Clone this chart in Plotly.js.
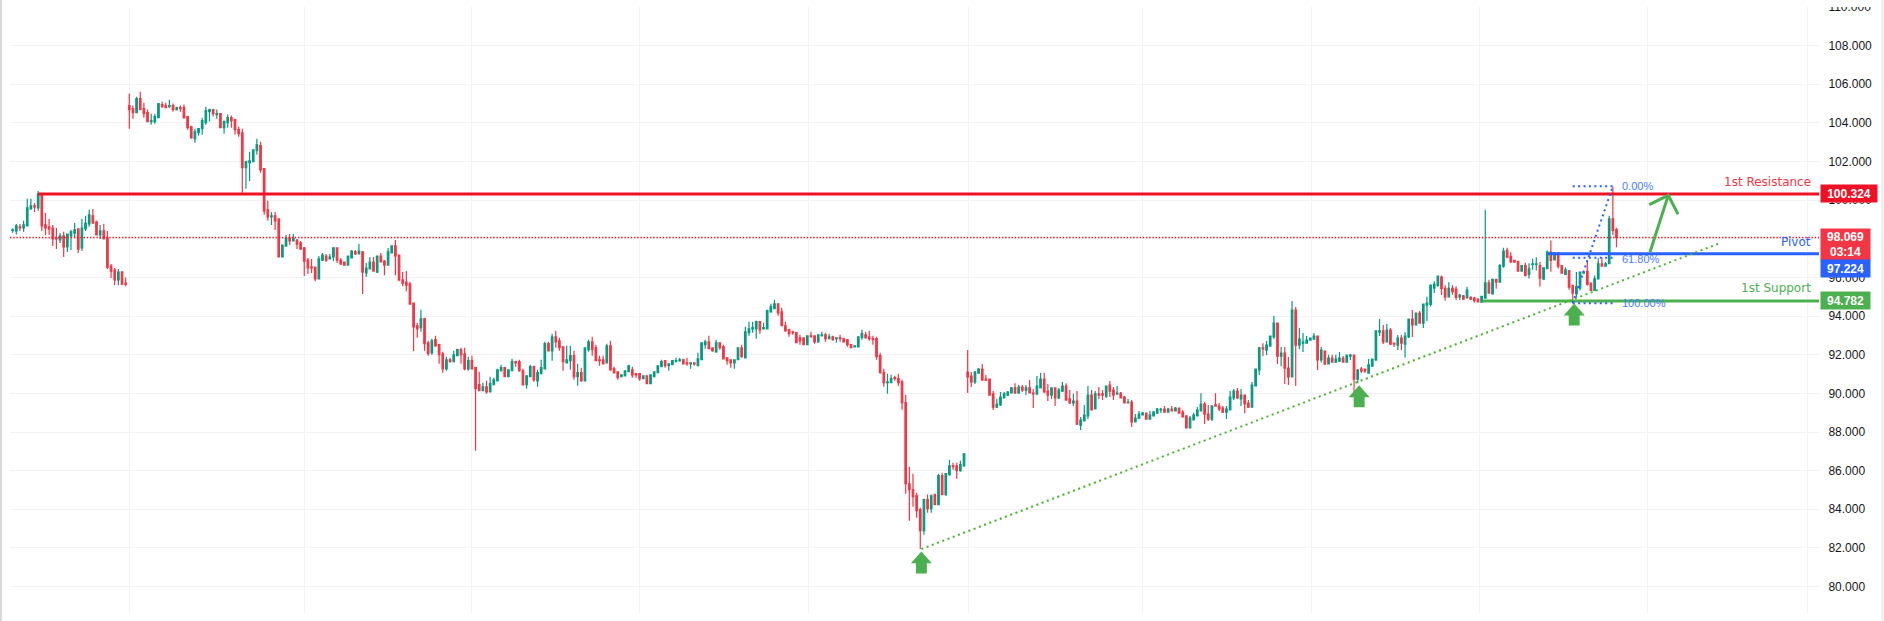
<!DOCTYPE html>
<html>
<head>
<meta charset="utf-8">
<script src="https://cdn.plot.ly/plotly-3.0.1.min.js"></script>
<style>
html,body{margin:0;padding:0;background:#fff;overflow:hidden}
#chart{position:absolute;left:0;top:0;width:1884px;height:621px}
#topmask{position:absolute;left:1820px;top:0;width:60px;height:7px;background:#fff}
#leftedge{position:absolute;left:0;top:0;width:2px;height:621px;background:#d9d9d9}
#rightedge{position:absolute;left:1881px;top:0;width:3px;height:621px;background:#f0f1f3}
</style>
</head>
<body>
<div id="chart"></div>
<div id="topmask"></div>
<div id="leftedge"></div>
<div id="rightedge"></div>
<script>
const open = [
98.43,98.41,98.62,98.56,98.67,99.55,99.71,99.60,100.33,98.72,
98.62,98.56,98.04,97.94,98.15,97.58,98.15,98.30,98.51,97.53,
98.51,98.77,99.19,98.88,98.20,98.41,98.04,96.59,96.38,95.87,
96.28,95.71,104.90,104.74,104.53,105.26,104.74,104.53,104.07,104.07,
104.27,104.95,104.90,104.84,104.90,104.69,104.79,104.79,104.33,103.80,
103.18,103.49,103.70,104.01,104.58,104.69,104.43,104.48,103.75,104.01,
104.27,104.17,103.65,103.49,101.68,101.94,101.99,102.56,102.82,101.63,
99.50,99.14,99.19,99.03,97.06,97.63,98.04,97.89,97.94,97.79,
97.53,96.90,96.54,96.54,95.92,96.90,97.11,96.96,97.06,97.53,
96.90,96.80,96.64,97.01,97.32,97.22,97.32,96.23,96.44,96.80,
96.28,97.11,96.85,96.64,97.27,97.63,97.16,95.87,95.76,95.66,
94.67,93.50,93.40,93.86,92.62,92.10,92.78,92.52,92.05,91.27,
91.74,91.64,91.95,92.26,92.05,91.27,91.69,91.33,90.45,90.14,
90.34,90.08,90.45,90.65,91.17,91.33,90.86,91.17,91.64,91.64,
91.17,90.45,90.86,91.38,90.65,91.02,91.27,92.57,92.20,92.93,
92.72,92.41,91.58,91.69,91.95,90.86,91.07,90.65,92.26,92.67,
92.36,91.74,91.74,91.58,92.46,91.27,91.12,90.86,90.91,91.12,
91.22,91.02,91.02,90.76,90.91,90.50,90.86,91.07,91.38,91.69,
91.43,91.48,91.64,91.69,91.74,91.58,91.53,91.58,91.43,91.74,
92.52,92.67,92.36,92.15,92.62,92.41,91.84,91.74,91.58,91.74,
92.36,91.84,93.14,93.34,93.34,93.71,93.34,93.34,94.22,94.38,
94.64,94.22,93.50,93.29,93.19,93.14,92.88,92.88,92.52,92.98,
92.98,92.67,92.98,93.03,92.83,92.93,92.83,92.88,92.83,92.78,
92.52,92.41,92.41,92.88,93.03,92.93,92.83,92.83,91.95,91.07,
90.55,90.55,90.81,90.76,90.60,89.52,85.32,85.01,84.70,83.98,
82.89,84.50,84.03,84.76,84.24,85.74,84.76,85.79,86.25,86.25,
86.00,86.25,91.10,90.90,90.59,91.05,91.26,90.74,90.74,89.97,
89.29,89.40,89.76,89.91,90.02,90.28,90.02,90.33,90.17,90.28,
90.02,89.97,90.28,90.74,90.12,89.91,90.28,89.76,90.12,90.38,
89.71,89.50,89.60,88.36,88.57,88.83,89.91,89.19,89.97,89.97,
89.86,90.43,90.17,89.97,90.02,89.81,89.50,89.55,88.52,88.72,
88.88,88.98,88.67,88.83,88.98,89.14,89.19,89.03,89.19,89.09,
89.24,89.03,88.83,88.21,88.62,88.83,89.09,89.45,88.93,88.67,
89.40,89.34,89.24,89.03,89.14,89.76,90.12,89.71,89.91,89.50,
89.29,90.38,91.21,92.35,92.24,92.45,92.92,93.64,91.93,92.09,
91.31,90.85,94.31,92.50,92.60,92.60,92.76,92.81,92.97,91.73,
92.19,91.52,91.83,91.62,91.67,91.83,91.62,91.93,91.98,90.74,
91.26,91.26,91.05,91.41,91.73,93.17,93.23,92.66,93.28,92.60,
92.50,92.86,92.55,92.92,93.85,93.54,94.16,93.64,94.57,94.60,
95.45,95.59,96.02,95.43,95.00,95.43,95.40,95.00,95.05,94.95,
94.97,94.93,94.88,94.72,94.93,95.72,95.15,95.90,95.76,96.59,
97.40,97.09,96.88,96.83,96.33,96.62,96.16,96.67,96.67,96.62,
95.91,96.45,97.31,96.91,97.28,96.62,96.16,96.36,95.59,95.15,
95.45,96.22,96.31,95.71,95.33,95.93,96.71,96.59,96.71,99.04,
98.48];
const close = [
98.46,98.67,98.56,98.72,99.60,99.71,99.65,100.33,98.67,98.56,
98.51,97.99,97.99,98.15,97.58,98.25,98.36,98.46,97.47,98.56,
98.82,99.24,98.82,98.20,98.41,97.99,96.54,96.33,95.87,96.28,
95.66,95.66,104.69,104.53,105.26,104.69,104.48,104.07,104.12,104.33,
105.00,104.84,104.79,104.90,104.69,104.79,104.74,104.27,103.75,103.23,
103.55,103.70,104.12,104.64,104.69,104.48,104.48,103.75,104.07,104.27,
104.12,103.65,103.44,101.68,101.99,102.04,102.61,102.87,101.57,99.45,
99.14,99.19,98.93,97.06,97.68,98.04,97.89,98.04,97.73,97.47,
96.85,96.49,96.49,95.92,96.96,97.16,96.90,97.06,97.53,96.90,
96.70,96.64,97.11,97.37,97.22,97.37,96.28,96.49,96.80,96.33,
97.11,96.80,96.64,97.32,97.63,97.11,95.87,95.71,95.60,94.62,
93.44,93.34,93.86,92.57,92.05,92.72,92.46,92.00,91.27,91.74,
91.64,92.00,92.26,92.00,91.27,91.69,91.27,90.24,90.14,90.34,
90.08,90.50,90.70,91.22,91.33,90.86,91.22,91.64,91.58,91.17,
90.45,90.91,91.38,90.70,91.07,91.33,92.57,92.20,92.93,92.67,
92.36,91.64,91.74,91.95,90.86,91.07,90.65,92.36,92.67,92.26,
91.69,91.69,91.53,92.46,91.22,91.07,90.81,90.96,91.17,91.43,
90.96,90.96,90.76,90.91,90.50,90.96,91.12,91.43,91.64,91.43,
91.53,91.69,91.69,91.74,91.53,91.53,91.58,91.53,91.79,92.62,
92.67,92.31,92.20,92.62,92.36,91.79,91.69,91.58,91.74,92.36,
91.90,93.19,93.34,93.40,93.71,93.29,93.40,94.28,94.48,94.64,
94.17,93.50,93.24,93.09,93.14,92.62,92.72,92.52,92.98,92.93,
92.67,93.03,93.03,92.83,92.93,92.78,92.88,92.83,92.67,92.52,
92.36,92.46,92.93,93.09,92.88,92.83,92.78,91.90,91.07,90.55,
90.60,90.76,90.76,90.55,89.52,85.32,85.01,84.65,83.93,82.89,
84.50,84.03,84.70,84.24,85.74,84.76,85.84,86.25,86.20,86.00,
86.31,86.87,90.85,90.59,91.10,91.26,90.69,90.69,89.91,89.29,
89.45,89.81,89.97,90.07,90.28,90.02,90.33,90.17,90.28,90.02,
89.97,90.38,90.74,90.07,89.91,90.28,89.76,90.17,90.38,89.66,
89.50,89.60,88.41,88.62,88.88,89.91,89.14,89.97,89.91,89.91,
90.38,90.12,89.91,90.02,89.76,89.50,89.55,88.52,88.72,88.93,
88.98,88.67,88.88,89.03,89.19,89.19,89.03,89.19,89.09,89.24,
88.98,88.78,88.21,88.72,88.88,89.14,89.45,88.93,88.67,89.34,
89.34,89.19,89.03,89.19,89.81,90.12,89.76,89.91,89.45,89.29,
90.43,91.26,92.35,92.30,92.50,92.97,93.64,91.93,92.09,91.31,
90.85,94.31,92.50,92.81,92.66,92.76,92.86,92.97,91.73,92.24,
91.52,91.83,91.62,91.78,91.83,91.62,91.98,91.98,90.74,91.21,
91.16,91.16,91.47,91.78,93.23,93.23,92.66,93.28,92.55,92.55,
92.86,92.60,92.97,93.85,93.54,94.16,93.64,94.62,94.67,95.59,
95.66,96.07,95.43,95.00,95.43,95.26,94.97,95.09,94.88,95.35,
94.88,94.80,94.74,95.02,95.72,95.19,95.90,95.76,96.62,97.36,
97.05,96.80,96.80,96.33,96.62,96.10,96.45,96.71,96.71,95.97,
96.50,97.31,96.88,97.28,96.59,96.22,96.40,95.50,95.19,95.53,
96.28,96.28,95.64,95.33,95.93,96.71,96.59,96.71,99.04,98.43,
98.07];
const high = [
98.55,98.77,98.77,98.93,100.07,100.07,99.86,100.48,100.38,99.34,
99.03,98.72,98.56,98.30,98.36,98.25,98.46,98.82,98.51,99.03,
99.19,99.50,99.55,98.93,98.72,98.77,98.41,96.70,96.49,96.44,
96.33,96.00,105.52,104.90,105.36,105.62,105.05,104.69,104.48,104.48,
105.00,105.10,105.05,105.20,105.00,104.84,104.90,104.95,104.33,103.86,
103.70,103.70,104.27,104.84,104.74,104.69,104.69,104.48,104.12,104.43,
104.38,104.22,103.80,103.70,102.04,102.51,102.61,103.18,103.03,101.63,
99.97,99.39,99.39,99.03,97.68,98.20,98.25,98.25,97.99,97.89,
97.58,97.01,96.96,96.54,97.11,97.27,97.22,97.22,97.58,97.53,
97.00,96.80,97.11,97.42,97.42,97.73,97.37,96.75,97.06,97.06,
97.11,97.27,96.90,97.53,97.63,97.94,97.16,96.28,96.33,95.76,
94.67,93.66,94.33,93.91,92.72,92.83,92.98,92.57,92.15,91.90,
91.84,92.20,92.31,92.36,92.36,91.90,91.95,91.38,91.12,90.55,
90.65,90.86,90.81,91.27,91.48,91.33,91.22,91.79,91.69,91.74,
91.27,90.91,91.48,91.43,91.22,91.74,92.67,92.67,93.09,93.24,
92.88,92.41,92.46,92.46,92.20,91.53,91.33,92.36,92.77,92.93,
92.52,91.95,91.95,92.57,92.72,91.38,91.12,90.96,91.17,91.48,
91.38,91.02,91.02,90.91,90.91,90.96,91.12,91.43,91.74,91.69,
91.53,91.69,91.84,91.84,91.79,91.84,91.58,91.58,92.10,92.62,
92.77,92.98,92.36,92.77,92.62,92.52,91.84,91.74,91.74,92.36,
92.52,93.45,93.71,93.71,93.76,93.71,93.66,94.33,94.64,94.85,
94.64,94.43,93.71,93.34,93.24,93.14,93.03,92.88,92.98,93.19,
92.98,93.03,93.19,93.14,93.09,92.98,92.88,93.03,92.83,92.78,
92.52,92.46,92.93,93.29,93.19,93.24,92.98,92.93,92.10,91.27,
91.02,90.96,90.91,91.02,90.70,89.93,86.20,85.84,84.86,84.08,
84.55,84.76,84.76,84.81,85.84,85.89,85.84,86.56,86.41,86.41,
86.51,86.87,92.24,91.10,91.16,91.31,91.52,90.95,90.74,90.12,
89.71,90.07,90.07,90.12,90.33,90.53,90.43,90.43,90.43,90.69,
90.22,90.90,91.05,91.05,90.48,90.28,90.28,90.28,90.59,90.53,
90.17,89.98,90.12,88.78,89.40,90.38,90.17,90.12,90.33,90.17,
90.38,90.64,90.33,90.38,90.07,89.86,89.71,89.66,88.93,89.09,
89.03,88.98,89.09,89.09,89.24,89.24,89.34,89.24,89.34,89.29,
89.24,89.14,88.83,88.83,89.00,89.29,90.00,89.55,89.40,89.40,
90.00,89.50,89.34,89.34,90.12,90.22,90.28,90.22,89.91,89.66,
90.59,91.26,92.40,92.60,92.71,92.97,94.00,93.64,92.40,92.40,
91.88,94.78,94.47,93.38,93.12,92.97,92.86,93.12,92.97,92.40,
92.19,92.00,92.00,92.00,92.14,91.93,91.98,92.04,91.98,91.26,
91.36,91.26,91.78,91.78,93.23,93.85,93.54,93.59,93.38,92.60,
93.02,93.02,93.17,93.85,94.31,94.16,94.26,94.62,95.00,95.65,
95.80,96.10,96.10,95.60,95.75,95.60,95.55,95.14,95.09,95.52,
95.03,95.00,94.93,95.05,99.50,95.88,95.95,95.90,96.70,97.54,
97.54,97.30,96.90,96.83,96.65,96.76,96.74,96.97,97.05,96.80,
96.50,97.40,97.91,97.30,97.28,96.62,96.53,96.36,95.59,96.28,
96.30,96.31,96.91,95.71,96.10,97.00,97.05,96.80,99.20,100.71,
98.57];
const low = [
98.32,98.22,98.41,98.37,98.67,99.50,99.39,99.45,98.41,98.20,
98.20,97.63,97.47,97.79,97.06,97.32,97.42,98.10,97.27,97.37,
98.41,98.62,98.77,98.20,97.99,97.99,96.44,95.97,95.60,95.60,
95.60,95.55,103.70,104.22,104.53,104.69,104.27,104.07,103.91,103.96,
104.27,104.79,104.79,104.79,104.58,104.64,104.58,104.22,103.65,103.18,
102.98,103.34,103.39,103.91,104.07,104.33,104.22,103.75,103.44,103.75,
103.75,103.39,103.29,100.38,100.59,100.99,101.99,102.35,101.42,99.24,
98.93,98.72,98.46,97.06,97.06,97.58,97.68,97.89,97.47,97.47,
96.07,96.18,96.23,95.81,95.92,96.85,96.80,96.96,96.85,96.75,
96.64,96.64,96.64,97.01,97.16,97.22,95.14,96.02,96.44,96.33,
96.23,96.80,96.12,96.64,97.27,96.12,95.81,95.55,95.29,94.62,
92.18,92.88,93.19,92.20,91.95,92.00,92.41,91.53,91.07,91.17,
91.58,91.64,91.95,91.53,91.20,91.17,91.27,87.03,90.14,90.14,
89.98,90.08,90.45,90.65,91.12,90.86,90.86,91.17,91.38,91.12,
90.39,90.24,90.86,90.60,90.34,91.02,91.27,92.20,91.69,92.36,
92.20,91.17,91.58,91.22,90.70,90.39,90.60,90.65,92.15,91.95,
91.69,91.43,91.53,91.58,91.17,91.02,90.70,90.86,90.91,91.12,
90.81,90.81,90.65,90.76,90.50,90.50,90.86,91.07,91.38,91.33,
91.17,91.48,91.64,91.64,91.53,91.43,91.27,91.43,91.43,91.74,
92.31,92.31,92.15,92.10,92.26,91.79,91.48,91.33,91.27,91.74,
91.84,91.84,92.98,93.14,92.83,93.09,93.34,93.34,94.17,94.38,
94.02,93.50,93.19,92.93,93.03,92.62,92.52,92.52,92.52,92.88,
92.57,92.62,92.98,92.67,92.83,92.72,92.62,92.67,92.62,92.41,
92.36,92.41,92.41,92.78,92.83,92.72,92.52,91.74,91.02,90.34,
89.98,90.55,90.65,90.39,89.15,84.80,83.41,84.13,83.56,81.94,
82.68,83.82,83.82,84.24,84.24,84.76,84.70,85.74,86.05,85.58,
85.94,86.20,90.02,90.33,90.48,91.05,90.69,90.64,89.91,89.14,
89.24,89.34,89.76,89.86,90.02,89.97,89.97,90.07,89.91,90.02,
89.24,89.91,90.28,90.02,89.60,89.71,89.34,89.71,90.07,89.60,
89.45,89.34,88.36,88.10,88.57,88.67,89.14,89.19,89.71,89.66,
89.76,89.81,89.66,89.91,89.76,89.50,89.50,88.26,88.52,88.67,
88.88,88.67,88.67,88.83,88.98,88.98,89.03,89.03,89.09,89.09,
88.98,88.78,88.21,88.21,88.62,88.83,89.09,88.41,88.57,88.57,
89.34,89.09,88.98,88.67,89.14,89.66,89.71,89.34,88.97,89.24,
89.29,90.38,90.95,91.93,91.98,92.45,92.81,91.52,91.41,90.48,
90.43,90.85,90.38,92.29,92.14,92.60,92.76,92.81,91.21,91.60,
91.47,91.52,91.62,91.57,91.62,91.62,91.62,91.73,90.07,90.53,
91.05,91.05,91.05,91.41,91.67,92.97,92.55,92.66,92.50,92.40,
92.24,92.24,91.86,92.86,92.92,93.54,93.64,93.38,93.74,94.50,
95.20,95.50,95.09,94.80,95.00,95.10,94.83,94.83,94.83,94.90,
94.83,94.70,94.70,94.72,94.93,95.19,95.15,95.41,95.76,96.50,
97.00,96.75,96.75,96.33,96.33,96.09,95.95,96.40,96.36,95.53,
95.91,96.45,96.30,96.91,96.47,96.22,96.16,95.36,94.67,94.98,
95.33,96.22,95.59,95.33,95.33,95.93,96.59,96.59,96.71,98.20,
97.57];

const barIndex = open.map((_, i) => i);
const priceTicks = [80,82,84,86,88,90,92,94,96,98,100,102,104,106,108,110];
const timeGrid = [32,80,126,172.1,218.2,262.1,310.1,356.2,402.3,448.6,492.3];

const lastPrice = 98.069;
const resistance = 100.324, pivot = 97.224, support = 94.782;
const axisEndBar = 495.56;
const resistanceStartBar = 7, pivotStartBar = 421.2, supportStartBar = 403.2;

const fibBars = [428, 439];
const fibLevels = [100.72, 97.02, 94.67];
const fibNames = ["0.00%", "61.80%", "100.00%"];
const fibLabelBar = 441;
const fibLabelPrices = [100.73, 96.97, 94.68];

const trendBars = [249.3, 468.0];
const trendPrices = [81.94, 97.75];

const arrowBars = [249.3, 369.4, 428.4];
const arrowTips = [81.82, 90.42, 94.65];

const targetBarsX = [449.2, 454.2, null, 449.0, 454.2, 456.9];
const targetPrices = [97.32, 100.25, null, 99.77, 100.25, 99.27];

const labelBar = 494;
const levelNames = ["1st Resistance", "Pivot", "1st Support"];
const levelNamePrices = [100.93, 97.82, 95.45];

const GREEN = "#089981", RED = "#f23645", LINE_RED = "#ef1226", BLUE = "#2962ff", LEVEL_GREEN = "#4caf50";

function flatLine(from, to, level, color, width, dash) {
  return {type:"scatter", mode:"lines", x:[from,to], y:[level,level], hoverinfo:"skip",
          line:{color, width, dash:dash||"solid"}, showlegend:false};
}
function arrowXY(bar, tip) {
  const xs = [0, 2.88, 1.5, 1.5, -1.5, -1.5, -2.88, 0];
  const ys = [0, -0.62, -0.62, -1.14, -1.14, -0.62, -0.62, 0];
  return {x: xs.map(d => bar + d), y: ys.map(d => tip + d)};
}

const traces = [
  flatLine(-0.73, axisEndBar, lastPrice, "#f2142b", 1.4, "1.4px,1.8px"),
  {type:"candlestick", x:barIndex, open, high, low, close, hoverinfo:"skip", showlegend:false, whiskerwidth:0,
   increasing:{line:{color:GREEN,width:1.2}, fillcolor:GREEN},
   decreasing:{line:{color:RED,width:1.2}, fillcolor:RED}},
  flatLine(resistanceStartBar, axisEndBar, resistance, LINE_RED, 3),
  flatLine(pivotStartBar, axisEndBar, pivot, BLUE, 3),
  flatLine(supportStartBar, axisEndBar, support, LEVEL_GREEN, 3),
  {type:"scatter", mode:"lines", x:trendBars, y:trendPrices, hoverinfo:"skip", showlegend:false,
   line:{color:"#45b52c", width:2, dash:"2px,3.6px"}}
];
fibLevels.forEach(l => traces.push({type:"scatter", mode:"lines", x:fibBars, y:[l,l], hoverinfo:"skip", showlegend:false,
  line:{color:BLUE, width:2, dash:"2px,3.4px"}}));
traces.push({type:"scatter", mode:"lines", x:fibBars, y:[fibLevels[2], fibLevels[0]], hoverinfo:"skip", showlegend:false,
  line:{color:BLUE, width:2, dash:"2px,3.4px"}});
arrowBars.forEach((b, i) => {
  const a = arrowXY(b, arrowTips[i]);
  traces.push({type:"scatter", mode:"lines", x:a.x, y:a.y, fill:"toself", fillcolor:LEVEL_GREEN,
    line:{width:0, color:LEVEL_GREEN}, hoverinfo:"skip", showlegend:false});
});
traces.push({type:"scatter", mode:"lines", x:targetBarsX, y:targetPrices, hoverinfo:"skip", showlegend:false,
  line:{color:LEVEL_GREEN, width:3}});

const TXT = "DejaVu Sans";
const NUM = "Liberation Sans";
const annotations = [];
levelNames.forEach((t, i) => annotations.push({x:labelBar, y:levelNamePrices[i], xref:"x", yref:"y", text:t, showarrow:false,
  xanchor:"right", yanchor:"middle", font:{family:TXT, size:12, color:[RED, BLUE, LEVEL_GREEN][i]}}));
fibNames.forEach((t, i) => annotations.push({x:fibLabelBar, y:fibLabelPrices[i], xref:"x", yref:"y", text:t, showarrow:false,
  xanchor:"left", yanchor:"middle", font:{family:NUM, size:11, color:"#4a7dff"}}));
function tag(y, text, bg, w, h, yshift) {
  annotations.push({xref:"paper", x:1, xshift:1, xanchor:"left", yref:"y", y, yanchor:"middle", yshift:yshift||0,
    text, showarrow:false, bgcolor:bg, width:w, height:h, align:"center", borderpad:0,
    font:{family:NUM, size:12, color:"#ffffff", weight:700}});
}
tag(resistance, resistance.toFixed(3), LINE_RED, 56, 17);
tag(lastPrice, lastPrice.toFixed(3)+"<br>03:14", RED, 49, 31, -7);
tag(pivot, pivot.toFixed(3), BLUE, 49, 17, -15);
tag(support, support.toFixed(3), LEVEL_GREEN, 49, 17);

const layout = {
  width:1884, height:621, paper_bgcolor:"#fff", plot_bgcolor:"#fff",
  margin:{l:10, r:65, t:7, b:8, pad:0, autoexpand:false},
  boxgap:0.4, showlegend:false, dragmode:false, hovermode:false,
  xaxis:{type:"linear", range:[-0.73, axisEndBar], tickmode:"array", tickvals:timeGrid, showticklabels:false,
         ticks:"", showgrid:true, gridcolor:"#f1f2f4", gridwidth:1, zeroline:false, showline:false,
         rangeslider:{visible:false}, fixedrange:true},
  yaxis:{side:"right", range:[78.63, 110.001], tickmode:"array", tickvals:priceTicks,
         ticktext:priceTicks.map(v => v.toFixed(3)), ticks:"outside", ticklen:6, tickcolor:"rgba(0,0,0,0)",
         tickfont:{family:NUM, size:12, color:"#131722"}, showgrid:true, gridcolor:"#f1f2f4", gridwidth:1,
         zeroline:false, showline:false, fixedrange:true},
  annotations
};
Plotly.newPlot("chart", traces, layout, {displayModeBar:false, staticPlot:true});
</script>
</body>
</html>
